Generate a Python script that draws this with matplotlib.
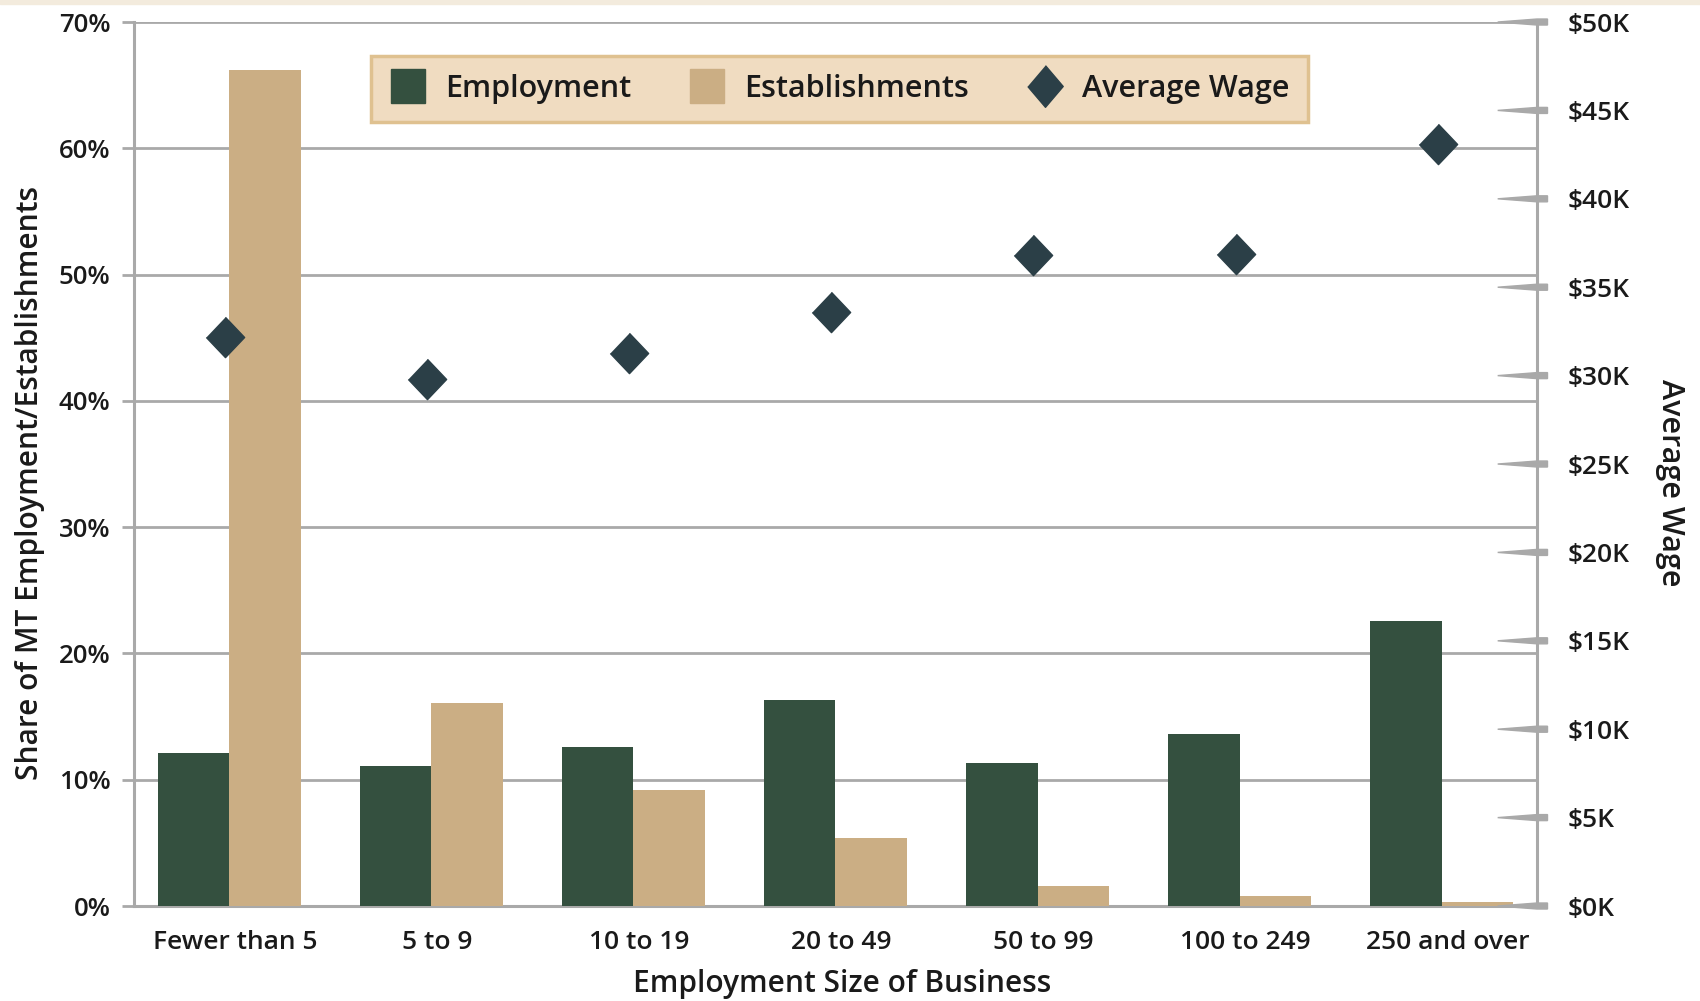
import matplotlib
matplotlib.use("Agg")
import matplotlib.pyplot as plt
from matplotlib.lines import Line2D
from matplotlib.patches import Polygon, Rectangle
import numpy as np

# Share of Montana employment / establishments by business size, with average wage
categories = ["Fewer than 5", "5 to 9", "10 to 19", "20 to 49",
              "50 to 99", "100 to 249", "250 and over"]
employment = [12.1, 11.1, 12.6, 16.3, 11.3, 13.6, 22.6]
establishments = [66.2, 16.1, 9.2, 5.4, 1.55, 0.77, 0.34]
avg_wage = [32.2, 29.8, 31.3, 33.6, 36.8, 36.9, 43.1]  # thousands of dollars

left_ticks = [0, 10, 20, 30, 40, 50, 60, 70]
right_ticks = [0, 5, 10, 15, 20, 25, 30, 35, 40, 45, 50]

GREEN = "#34503F"
TAN = "#CBAE84"
SLATE = "#2B3F47"
GRID = "#A9A9A9"
TEXT = "#1A1A1A"

plt.rcParams["font.family"] = ["Open Sans", "DejaVu Sans"]

fig = plt.figure(figsize=(17, 10.01), dpi=100)
fig.patches.append(Rectangle((0, 0.996), 1, 0.004, transform=fig.transFigure,
                             color="#F3EBDD", zorder=0))

ax = fig.add_axes([0.0788, 0.0949, 0.8253, 0.8831])
ax2 = ax.twinx()

x = np.arange(len(categories))
w = 0.354
ax.bar(x - w / 2, employment, width=w, color=GREEN, zorder=3)
ax.bar(x + w / 2, establishments, width=w, color=TAN, zorder=3)

ax.set_xlim(-0.472, len(categories) - 1 + 0.472)
ax.set_ylim(0, 70)
ax.set_yticks(left_ticks)
ax.set_yticklabels([f"{t}%" for t in left_ticks])
ax.set_xticks(x + 0.03)
ax.set_xticklabels(categories)
ax.yaxis.grid(True, color=GRID, linewidth=2, zorder=0)
ax.set_axisbelow(True)

ax.spines["top"].set_visible(False)
ax2.spines["top"].set_visible(False)
for sp in [ax.spines["left"], ax.spines["bottom"], ax2.spines["right"]]:
    sp.set_color(GRID)
    sp.set_linewidth(2.2)
ax2.spines["left"].set_visible(False)
ax2.spines["bottom"].set_visible(False)
ax.spines["right"].set_visible(False)

ax.tick_params(axis="y", length=9, width=2, color=GRID, pad=8,
               labelsize=18.5, labelcolor=TEXT)
ax.tick_params(axis="x", length=0, pad=17, labelsize=19, labelcolor=TEXT)
for lab in ax.get_xticklabels() + ax.get_yticklabels():
    lab.set_fontweight("semibold")

# average wage on the right axis
ax2.set_ylim(0, 50)
ax2.set_yticks(right_ticks)
ax2.set_yticklabels([f"${t}K" for t in right_ticks])
ax2.tick_params(axis="y", length=0, pad=22, labelsize=19, labelcolor=TEXT)
for lab in ax2.get_yticklabels():
    lab.set_fontweight("semibold")

# tapered tick marks on the wage axis
ytr = ax2.get_yaxis_transform()
for t in right_ticks:
    ax2.add_patch(Polygon([(0.972, t), (1.0, t + 0.17), (1.0075, t + 0.17),
                           (1.0075, t - 0.17), (1.0, t - 0.17)],
                          closed=True, transform=ytr, color=GRID,
                          clip_on=False, zorder=4))

diamond = [(0, 1), (0.95, 0), (0, -1), (-0.95, 0)]
ax2.plot(x - 0.02, avg_wage, linestyle="none", marker=diamond, markersize=29,
         color=SLATE, zorder=5)

ax.set_ylabel("Share of MT Employment/Establishments", fontsize=21.5,
              fontweight="semibold", color=TEXT, labelpad=10)
ax.yaxis.label.set_y(0.479)
ax2.set_ylabel("Average Wage", fontsize=22, fontweight="semibold",
               color=TEXT, rotation=270, labelpad=40)
ax2.yaxis.label.set_y(0.479)
ax.set_xlabel("Employment Size of Business", fontsize=21.5,
              fontweight="semibold", color=TEXT, labelpad=10)
ax.xaxis.label.set_x(0.505)

handles = [
    Line2D([], [], linestyle="none", marker="s", markersize=24,
           color=GREEN),
    Line2D([], [], linestyle="none", marker="s", markersize=24,
           color=TAN),
    Line2D([], [], linestyle="none", marker=[(0, 1), (0.85, 0), (0, -1), (-0.85, 0)],
           markersize=30, color=SLATE),
]
leg = ax.legend(handles, ["Employment", "Establishments", "Average Wage"],
                loc="center", bbox_to_anchor=(0.4938, 0.911),
                bbox_transform=fig.transFigure, ncol=3, fontsize=22,
                frameon=True, fancybox=False, framealpha=1,
                facecolor="#F0DCC1", edgecolor="#DFC190",
                handlelength=1.2, handletextpad=0.6, columnspacing=1.9,
                borderpad=0.6)
leg.get_frame().set_linewidth(2.5)
for t in leg.get_texts():
    t.set_fontweight("semibold")
    t.set_color(TEXT)
leg.set_zorder(10)

fig.savefig("out.png", dpi=100)
